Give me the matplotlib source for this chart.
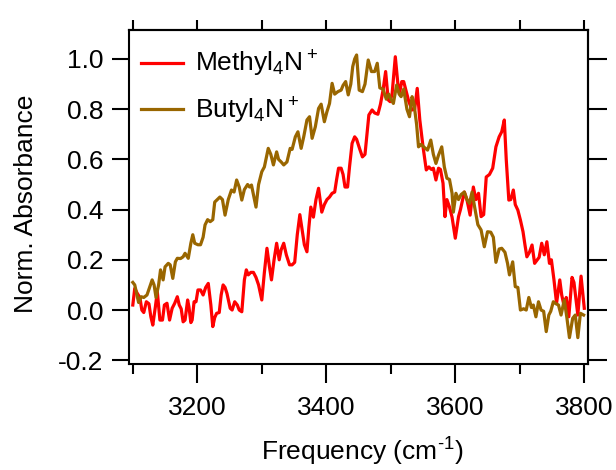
import numpy as np
import matplotlib
matplotlib.use("Agg")
import matplotlib.pyplot as plt

# --------------------
# Digitised spectra (wavenumber in cm^-1, normalised absorbance)
# --------------------

methyl_freq = [
    3100, 3103, 3107, 3111, 3114, 3117, 3121, 3125, 3128, 3131, 3135, 3138,
    3142, 3146, 3149, 3153, 3157, 3161, 3165, 3169, 3172, 3175, 3178, 3181,
    3185, 3187, 3190, 3192, 3195, 3198, 3201, 3205, 3209, 3213, 3217, 3221,
    3224, 3227, 3230, 3234, 3237, 3240, 3243, 3246, 3251, 3254, 3258, 3262,
    3265, 3269, 3273, 3276, 3279, 3283, 3287, 3291, 3295, 3300, 3304, 3308,
    3312, 3315, 3319, 3323, 3327, 3330, 3334, 3338, 3343, 3347, 3351, 3355,
    3359, 3363, 3366, 3370, 3373, 3376, 3380, 3384, 3388, 3393, 3397, 3401,
    3405, 3409, 3413, 3416, 3419, 3423, 3426, 3429, 3433, 3436, 3440, 3444,
    3447, 3452, 3456, 3460, 3463, 3466, 3471, 3475, 3480, 3484, 3488, 3492,
    3496, 3499, 3502, 3507, 3511, 3514, 3517, 3520, 3524, 3528, 3533, 3537,
    3541, 3545, 3550, 3555, 3559, 3563, 3566, 3570, 3574, 3577, 3581, 3584,
    3587, 3591, 3595, 3600, 3605, 3608, 3614, 3618, 3623, 3628, 3632, 3636,
    3640, 3644, 3648, 3653, 3658, 3663, 3668, 3672, 3676, 3679, 3683, 3686,
    3690, 3693, 3697, 3701, 3705, 3708, 3711, 3715, 3719, 3723, 3727, 3730,
    3734, 3738, 3742, 3746, 3749, 3753, 3757, 3762, 3765, 3769, 3772, 3776,
    3781, 3784, 3790, 3795, 3800,
]
methyl_abs = [
    0.02, 0.086, 0.066, 0.05, 0.0, -0.01, 0.033, 0.025, -0.027, -0.06, 0.013, 0.073,
    -0.04, -0.04, 0.02, 0.027, -0.04, 0.007, 0.027, 0.053, 0.02, 0.005, -0.047, -0.04,
    0.04, 0.013, -0.05, -0.04, 0.033, 0.033, 0.08, 0.08, 0.06, 0.09, 0.106, 0.02,
    -0.066, -0.03, -0.013, -0.01, 0.06, 0.1, 0.09, 0.066, 0.007, 0.0, 0.033, 0.02,
    0.0, -0.007, 0.12, 0.16, 0.14, 0.15, 0.15, 0.13, 0.1, 0.04, 0.15, 0.246,
    0.17, 0.12, 0.2, 0.266, 0.2, 0.24, 0.266, 0.22, 0.18, 0.18, 0.19, 0.3,
    0.38, 0.31, 0.26, 0.232, 0.33, 0.41, 0.37, 0.44, 0.485, 0.39, 0.42, 0.44,
    0.45, 0.465, 0.47, 0.52, 0.565, 0.565, 0.54, 0.49, 0.49, 0.57, 0.664, 0.69,
    0.68, 0.64, 0.61, 0.62, 0.7, 0.777, 0.797, 0.785, 0.78, 0.82, 0.876, 0.95,
    0.837, 0.83, 0.86, 1.009, 0.9, 0.87, 0.91, 0.91, 0.87, 0.83, 0.797, 0.8,
    0.883, 0.757, 0.65, 0.558, 0.57, 0.56, 0.565, 0.518, 0.565, 0.56, 0.505, 0.372,
    0.44, 0.41, 0.37, 0.286, 0.372, 0.4, 0.47, 0.44, 0.378, 0.49, 0.44, 0.465,
    0.372, 0.38, 0.53, 0.54, 0.565, 0.65, 0.69, 0.71, 0.757, 0.6, 0.438, 0.44,
    0.478, 0.42, 0.398, 0.358, 0.312, 0.26, 0.212, 0.23, 0.259, 0.186, 0.2, 0.21,
    0.266, 0.22, 0.272, 0.186, 0.2, 0.12, 0.027, 0.12, 0.06, 0.013, 0.05, -0.027,
    0.13, 0.11, -0.02, 0.135, 0.007,
]

butyl_freq = [
    3100, 3103, 3106, 3109, 3113, 3117, 3122, 3126, 3130, 3133, 3136, 3140,
    3143, 3147, 3150, 3155, 3158, 3162, 3166, 3169, 3174, 3178, 3181, 3186,
    3190, 3193, 3196, 3201, 3205, 3209, 3212, 3216, 3220, 3224, 3227, 3231,
    3235, 3239, 3243, 3248, 3253, 3257, 3261, 3265, 3269, 3273, 3278, 3281,
    3284, 3287, 3291, 3295, 3300, 3304, 3310, 3314, 3318, 3323, 3326, 3330,
    3334, 3339, 3344, 3347, 3352, 3356, 3361, 3365, 3370, 3374, 3378, 3383,
    3388, 3392, 3397, 3401, 3405, 3409, 3413, 3418, 3423, 3426, 3430, 3434,
    3438, 3441, 3444, 3447, 3451, 3456, 3460, 3465, 3470, 3475, 3479, 3483,
    3488, 3493, 3497, 3500, 3504, 3509, 3513, 3516, 3520, 3525, 3529, 3533,
    3536, 3540, 3543, 3547, 3551, 3557, 3562, 3566, 3570, 3574, 3579, 3583,
    3587, 3591, 3595, 3597, 3601, 3605, 3609, 3614, 3618, 3622, 3626, 3630,
    3635, 3640, 3645, 3650, 3655, 3659, 3663, 3668, 3672, 3677, 3681, 3684,
    3689, 3693, 3697, 3701, 3706, 3710, 3714, 3718, 3721, 3725, 3729, 3733,
    3737, 3741, 3745, 3748, 3752, 3756, 3760, 3764, 3769, 3773, 3777, 3782,
    3786, 3790, 3794, 3799,
]
butyl_abs = [
    0.11, 0.1, 0.066, 0.03, 0.053, 0.05, 0.06, 0.09, 0.12, 0.1, 0.05, 0.1,
    0.16, 0.12, 0.172, 0.186, 0.18, 0.126, 0.192, 0.206, 0.205, 0.212, 0.226, 0.206,
    0.266, 0.3, 0.266, 0.26, 0.26, 0.29, 0.339, 0.36, 0.352, 0.36, 0.43, 0.44,
    0.45, 0.44, 0.378, 0.44, 0.478, 0.47, 0.518, 0.49, 0.438, 0.48, 0.5, 0.49,
    0.498, 0.46, 0.41, 0.5, 0.551, 0.57, 0.644, 0.62, 0.578, 0.63, 0.6, 0.59,
    0.578, 0.59, 0.644, 0.64, 0.69, 0.71, 0.644, 0.69, 0.757, 0.77, 0.684, 0.73,
    0.803, 0.82, 0.75, 0.79, 0.823, 0.903, 0.86, 0.87, 0.876, 0.895, 0.91, 0.857,
    0.9, 0.97, 1.0, 1.016, 0.876, 0.87, 0.9, 0.996, 0.95, 0.95, 0.983, 0.885,
    0.88, 0.84, 0.86, 0.84, 0.823, 0.896, 0.86, 0.85, 0.88, 0.8, 0.77, 0.85,
    0.82, 0.74, 0.65, 0.66, 0.65, 0.637, 0.677, 0.62, 0.584, 0.617, 0.65, 0.57,
    0.525, 0.52, 0.465, 0.39, 0.465, 0.44, 0.46, 0.47, 0.44, 0.425, 0.47, 0.41,
    0.34, 0.319, 0.252, 0.312, 0.31, 0.29, 0.19, 0.243, 0.246, 0.23, 0.186, 0.14,
    0.192, 0.093, 0.09, 0.0, 0.005, 0.0, 0.05, 0.01, 0.02, -0.027, 0.033, 0.0,
    -0.005, -0.086, -0.02, -0.005, 0.033, 0.025, 0.02, -0.02, 0.04, -0.03, -0.11, -0.033,
    -0.02, -0.11, -0.013, -0.02,
]

series_labels = ["Methyl$_4$N$^+$", "Butyl$_4$N$^+$"]
series_colors = ["#FF0000", "#996600"]

x_major = [3200, 3400, 3600, 3800]
x_minor = [3100, 3300, 3500, 3700]
x_top = [3100, 3200, 3300, 3400, 3500, 3600, 3700, 3800]
y_ticks = [-0.2, 0.0, 0.2, 0.4, 0.6, 0.8, 1.0]

# --------------------
# Style
# --------------------
plt.rcParams["font.family"] = ["Liberation Sans", "DejaVu Sans"]
plt.rcParams["mathtext.default"] = "regular"
plt.rcParams["axes.unicode_minus"] = False
FS = 19
LW_AX = 1.5

W, H = 616, 470
fig = plt.figure(figsize=(W / 100, H / 100), dpi=100)
ax = fig.add_axes([129 / W, 1 - 363.5 / H, (587.7 - 129) / W, (363.5 - 30) / H])

for f, a, lab, c in zip([methyl_freq, butyl_freq], [methyl_abs, butyl_abs],
                        series_labels, series_colors):
    ax.plot(f, a, color=c, lw=2.3, label=lab, solid_joinstyle="round")

ax.set_xlim(3094.1, 3805.3)
ax.set_ylim(-0.213, 1.1155)

for s in ax.spines.values():
    s.set_linewidth(LW_AX)

ax.set_xticks(x_major)
ax.set_xticks(x_minor, minor=True)
ax.set_yticks(y_ticks)
ax.set_yticklabels([f"{v:.1f}" for v in y_ticks])
ax.tick_params(axis="x", which="major", direction="out", length=13.5, width=LW_AX,
               pad=10, labelsize=FS)
ax.tick_params(axis="x", which="minor", direction="out", length=7.2, width=LW_AX)
ax.tick_params(axis="y", which="major", direction="out", length=12.3, width=LW_AX,
               pad=6, labelsize=FS)

# top and right axes carry ticks only
top = ax.secondary_xaxis("top")
top.set_xticks(x_top)
top.set_xticklabels([])
top.tick_params(direction="out", length=7.2, width=LW_AX)
top.spines["top"].set_linewidth(LW_AX)

right = ax.secondary_yaxis("right")
right.set_yticks(y_ticks)
right.set_yticklabels([])
right.tick_params(direction="out", length=13.5, width=LW_AX)
right.spines["right"].set_linewidth(LW_AX)

fig.text(362.5 / W, 1 - 460.7 / H, "Frequency (cm$^{\u2010 1}$)", fontsize=FS,
         ha="center", va="baseline")
fig.text(33 / W, 1 - 204 / H, "Norm. Absorbance", fontsize=FS, rotation=90,
         ha="center", va="baseline", rotation_mode="anchor")

ax.legend(loc="upper left", bbox_to_anchor=((140.7 - 129) / 458.7, 1 - 19 / 333.5),
          frameon=False, fontsize=FS, handlelength=1.6, handletextpad=0.45,
          borderpad=0, borderaxespad=0, labelspacing=0.62)

fig.savefig("out.png", dpi=100)
